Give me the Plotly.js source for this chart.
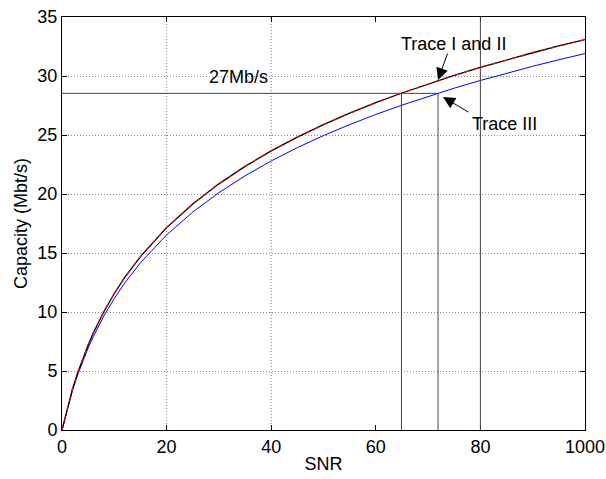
<!DOCTYPE html>
<html><head><meta charset="utf-8">
<script src="https://cdn.plot.ly/plotly-3.0.1.min.js"></script>
<style>body{margin:0;background:#fff}#chart{width:606px;height:479px}</style>
</head><body><div id="chart"></div>
<script>
var snr = [0,1,2,3,4,5,6,8,10,12,15,20,25,30,35,40,45,50,55,60,65,70,75,80,85,90,95,100];
var trace12 = [0,1.86,3.46,4.85,6.09,7.21,8.23,10.02,11.57,12.93,14.70,17.15,19.16,20.86,22.34,23.65,24.82,25.88,26.85,27.74,28.56,29.33,30.05,30.73,31.37,31.97,32.55,33.09];
var trace3 = [0,1.79,3.34,4.68,5.87,6.95,7.93,9.66,11.15,12.46,14.17,16.53,18.47,20.11,21.54,22.80,23.93,24.95,25.88,26.74,27.53,28.27,28.97,29.62,30.24,30.82,31.38,31.90];
var xTickVals = [0,20,40,60,80,100];
var xTickText = ['0','20','40','60','80','1000'];
var yTickVals = [0,5,10,15,20,25,30,35];
var rate = 28.53, snrA = 64.9, snrB = 71.9, snrC = 80;
var xGrid = [20,40];

var font = {family:'Liberation Sans, Arial, sans-serif', size:18, color:'#000'};
var data = [
  {x:snr, y:trace3, mode:'lines', line:{color:'#0000ff', width:1}, hoverinfo:'none'},
  {x:snr, y:trace12, mode:'lines', line:{color:'#000000', width:1.3}, hoverinfo:'none'},
  {x:snr, y:trace12, mode:'lines', line:{color:'#ff0000', width:1.3, dash:'4px,6px'}, hoverinfo:'none'}
];
var shapes = [];
xGrid.forEach(function(v){
  shapes.push({type:'line', xref:'x', yref:'paper', x0:v, x1:v, y0:0, y1:1, line:{color:'#888', width:1, dash:'1px,2px'}, layer:'below'});
});
shapes.push({type:'line', xref:'x', yref:'paper', x0:snrC, x1:snrC, y0:0, y1:1, line:{color:'#444', width:1}});
shapes.push({type:'line', xref:'x', yref:'y', x0:0, x1:snrB, y0:rate, y1:rate, line:{color:'#444', width:1}});
shapes.push({type:'line', xref:'x', yref:'y', x0:snrA, x1:snrA, y0:0, y1:rate, line:{color:'#444', width:1}});
shapes.push({type:'line', xref:'x', yref:'y', x0:snrB, x1:snrB, y0:0, y1:rate, line:{color:'#444', width:1}});

var arrowStyle = {showarrow:true, arrowhead:2, arrowsize:2.4, arrowwidth:1, arrowcolor:'#000', text:'', axref:'pixel', ayref:'pixel'};
var layout = {
  width:606, height:479,
  margin:{l:62, r:21, t:17, b:49},
  paper_bgcolor:'#fff', plot_bgcolor:'#fff',
  showlegend:false,
  font:font,
  xaxis:{range:[0,100], tickvals:xTickVals, ticktext:xTickText, ticks:'inside', ticklen:5, tickcolor:'#000',
    showgrid:false, zeroline:false, showline:true, linecolor:'#000', linewidth:1, mirror:'ticks',
    title:{text:'SNR', font:font, standoff:1}, tickfont:font},
  yaxis:{range:[0,35], tickvals:yTickVals, ticks:'inside', ticklen:5, tickcolor:'#000',
    showgrid:true, gridcolor:'#888', griddash:'1px,2px', gridwidth:1, zeroline:false, showline:true, linecolor:'#000', linewidth:1, mirror:'ticks',
    title:{text:'Capacity (Mbt/s)', font:font, standoff:5}, tickfont:font},
  shapes:shapes,
  annotations:[
    {x:33.8, y:29.9, xref:'x', yref:'y', text:'27Mb/s', showarrow:false, font:font},
    {x:74.8, y:32.7, xref:'x', yref:'y', text:'Trace I and II', showarrow:false, font:font},
    {x:84.7, y:25.9, xref:'x', yref:'y', text:'Trace III', showarrow:false, font:font},
    Object.assign({x:71.9, y:29.66, xref:'x', yref:'y', ax:10, ay:-28}, arrowStyle),
    Object.assign({x:72.85, y:28.22, xref:'x', yref:'y', ax:27, ay:16}, arrowStyle)
  ]
};
Plotly.newPlot('chart', data, layout, {staticPlot:true});
</script></body></html>
